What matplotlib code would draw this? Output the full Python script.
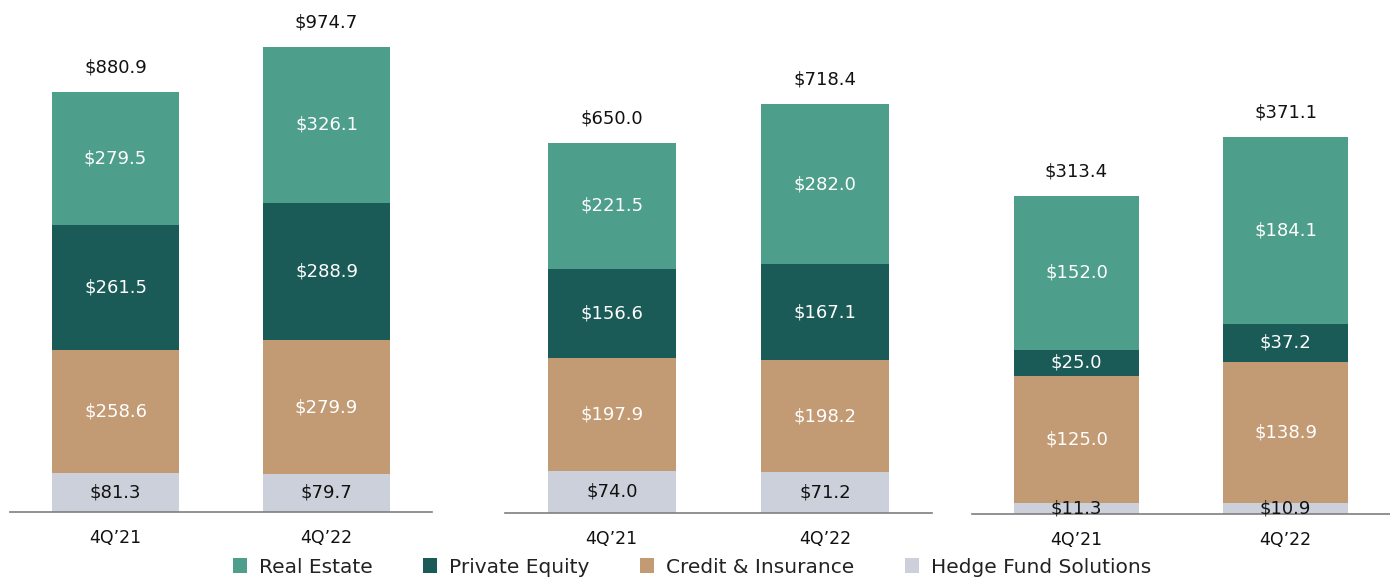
import matplotlib
matplotlib.use("Agg")
import matplotlib.pyplot as plt
from matplotlib.patches import Patch

periods = ["4Q’21", "4Q’22"]
segments = ["Real Estate", "Private Equity", "Credit & Insurance", "Hedge Fund Solutions"]
colors = ["#4d9e8a", "#1b5b57", "#c29b74", "#cbd0da"]
label_colors = ["white", "white", "white", "#111111"]

# values per panel: [hedge, credit, pe, re] stacked bottom-up
panel1_hedge = [81.3, 79.7]
panel1_credit = [258.6, 279.9]
panel1_pe = [261.5, 288.9]
panel1_re = [279.5, 326.1]
panel1_total = [880.9, 974.7]

panel2_hedge = [74.0, 71.2]
panel2_credit = [197.9, 198.2]
panel2_pe = [156.6, 167.1]
panel2_re = [221.5, 282.0]
panel2_total = [650.0, 718.4]

panel3_hedge = [11.3, 10.9]
panel3_credit = [125.0, 138.9]
panel3_pe = [25.0, 37.2]
panel3_re = [152.0, 184.1]
panel3_total = [313.4, 371.1]

panels = [
    (panel1_re, panel1_pe, panel1_credit, panel1_hedge, panel1_total),
    (panel2_re, panel2_pe, panel2_credit, panel2_hedge, panel2_total),
    (panel3_re, panel3_pe, panel3_credit, panel3_hedge, panel3_total),
]

W, H = 1390, 579
fig = plt.figure(figsize=(W / 100, H / 100), dpi=100)
plt.rcParams['font.family'] = ['DejaVu Sans']

# axes boxes in pixels: (left, right, baseline_y) ; ymax in data units
boxes = [(10, 432, 512, 1073), (505, 932, 513, 901), (972, 1390, 514, 506)]

for (re_, pe, cr, hf, tot), (x0, x1, yb, ymax) in zip(panels, boxes):
    ax = fig.add_axes([x0 / W, 1 - yb / H, (x1 - x0) / W, yb / H])
    ax.set_xlim(-0.5, 1.5)
    ax.set_ylim(0, ymax)
    xs = list(range(len(periods)))
    series = [hf, cr, pe, re_]
    cols = [colors[3], colors[2], colors[1], colors[0]]
    lcols = [label_colors[3], label_colors[2], label_colors[1], label_colors[0]]
    bottoms = [0.0] * len(xs)
    for vals, c, lc in zip(series, cols, lcols):
        ax.bar(xs, vals, width=0.6, bottom=bottoms, color=c, edgecolor="none")
        for i, v in enumerate(vals):
            ax.text(xs[i], bottoms[i] + v / 2, f"${v:.1f}", ha="center", va="center",
                    color=lc, fontsize=13)
        bottoms = [b + v for b, v in zip(bottoms, vals)]
    for i, t in enumerate(tot):
        ax.annotate(f"${t:.1f}", (xs[i], bottoms[i]), xytext=(0, 11),
                    textcoords="offset points", ha="center", va="bottom",
                    fontsize=13, color="#111111")
    for s in ["top", "right", "left"]:
        ax.spines[s].set_visible(False)
    ax.spines["bottom"].set_color("#7f7f7f")
    ax.spines["bottom"].set_linewidth(1.2)
    ax.set_yticks([])
    ax.set_xticks(xs)
    ax.set_xticklabels(periods, fontsize=12.5, color="#111111")
    ax.tick_params(axis="x", length=0, pad=12)
    ax.patch.set_alpha(0)

handles = [Patch(facecolor=c, edgecolor="none") for c in colors]
fig.legend(handles, segments, loc="lower center", bbox_to_anchor=(0.498, -0.027), ncol=4,
           frameon=False, fontsize=14.5, handlelength=0.7, handleheight=0.7,
           handletextpad=0.6, columnspacing=2.5, labelcolor="#222222")

fig.savefig("out.png", dpi=100)
